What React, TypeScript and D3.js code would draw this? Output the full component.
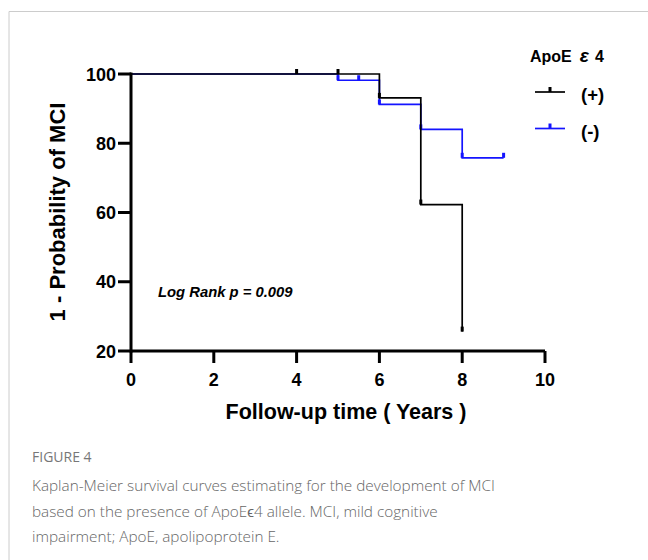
import React from "react";
import * as d3 from "d3";

const xTicks = [0, 2, 4, 6, 8, 10];
const yTicks = [20, 40, 60, 80, 100];

// Step survival curves: [time, survival%]
const posSteps: [number, number][] = [
  [0, 100], [6, 93.1], [7, 62.3], [8, 25.6],
];
const posEnd = 8;
const posCensor: [number, number][] = [
  [4, 100], [5, 100], [6, 93.1], [7, 62.3], [8, 25.6],
];

const negSteps: [number, number][] = [
  [0, 100], [5, 98.2], [6, 91.2], [7, 84.0], [8, 75.8],
];
const negEnd = 9;
const negCensor: [number, number][] = [
  [5, 98.2], [5.5, 98.2], [6, 91.2], [7, 84.0], [8, 75.8], [9, 75.8],
];

const seriesLabels = ["(+)", "(-)"];
const seriesColors = ["#000000", "#1414ff"];

const captionLines = [
  "Kaplan-Meier survival curves estimating for the development of MCI",
  "based on the presence of ApoEϵ4 allele. MCI, mild cognitive",
  "impairment; ApoE, apolipoprotein E.",
];

const W = 648, H = 560;
const x = d3.scaleLinear().domain([0, 10]).range([131, 545]);
const y = d3.scaleLinear().domain([20, 100]).range([351, 74]);

function stepPath(steps: [number, number][], end: number) {
  const pts: [number, number][] = [];
  steps.forEach(([t, s], i) => {
    if (i > 0) pts.push([t, steps[i - 1][1]]);
    pts.push([t, s]);
  });
  pts.push([end, steps[steps.length - 1][1]]);
  return d3.line<[number, number]>().x((d) => x(d[0])).y((d) => y(d[1]))(pts) || "";
}

export default function App() {
  const font = "Liberation Sans, Arial, sans-serif";
  const series = [
    { steps: posSteps, end: posEnd, censor: posCensor },
    { steps: negSteps, end: negEnd, censor: negCensor },
  ];
  const order = [1, 0];
  return (
    <svg width={W} height={H} style={{ position: "absolute", left: 0, top: 0, background: "#fff" }} fontFamily={font}>
      <rect x={0} y={0} width={W} height={H} fill="#fff" />
      {/* card border */}
      <line x1={9} y1={11.5} x2={W} y2={11.5} stroke="#cccccc" strokeWidth={1} />
      <line x1={9} y1={11.5} x2={9} y2={H} stroke="#cccccc" strokeWidth={1} />

      {/* curves */}
      {order.map((i) => {
        const s = series[i];
        return (
          <g key={i}>
            <path d={stepPath(s.steps, s.end)} fill="none" stroke={seriesColors[i]} strokeWidth={1.7} />
            {s.censor.map(([t, v], k) => (
              <rect key={k} x={x(t) - 1.5} y={y(v) - 5} width={3} height={5} fill={seriesColors[i]} />
            ))}
          </g>
        );
      })}

      {/* axes */}
      <line x1={x(0)} y1={y(20)} x2={x(10)} y2={y(20)} stroke="#000" strokeWidth={3} />
      <line x1={x(0)} y1={y(20) + 1.5} x2={x(0)} y2={y(100) - 1.5} stroke="#000" strokeWidth={3} />
      {xTicks.map((t) => (
        <g key={t}>
          <line x1={x(t)} x2={x(t)} y1={y(20)} y2={y(20) + 12} stroke="#000" strokeWidth={3} />
          <text x={x(t)} y={y(20) + 35} textAnchor="middle" fontSize={18} fontWeight="bold">{t}</text>
        </g>
      ))}
      {yTicks.map((t) => (
        <g key={t}>
          <line x1={x(0) - 13} x2={x(0)} y1={y(t)} y2={y(t)} stroke="#000" strokeWidth={3} />
          <text x={x(0) - 15} y={y(t) + 6.5} textAnchor="end" fontSize={18} fontWeight="bold">{t}</text>
        </g>
      ))}

      <text x={346} y={419} textAnchor="middle" fontSize={21.5} fontWeight="bold">Follow-up time ( Years )</text>
      <text transform={`translate(65,212) rotate(-90)`} textAnchor="middle" fontSize={22} fontWeight="bold">1 - Probability of MCI</text>
      <text x={158} y={297} fontSize={14.8} fontWeight="bold" fontStyle="italic">Log Rank p = 0.009</text>

      {/* legend */}
      <text x={530} y={62} fontSize={16} fontWeight="bold">
        ApoE<tspan dx={8} fontStyle="italic" fontSize={19}>ε</tspan><tspan dx={6}>4</tspan>
      </text>
      {seriesLabels.map((lab, i) => {
        const ly = 92 + i * 36.5;
        return (
          <g key={lab}>
            <line x1={535} x2={565} y1={ly} y2={ly} stroke={seriesColors[i]} strokeWidth={1.7} />
            <rect x={548.5} y={ly - 5} width={3} height={5} fill={seriesColors[i]} />
            <text x={581} y={ly + 9} fontSize={18.5} fontWeight="bold">{lab}</text>
          </g>
        );
      })}

      {/* caption */}
      <text x={32} y={462} fontSize={14} fill="#777" fontFamily="Open Sans, sans-serif">FIGURE 4</text>
      {captionLines.map((l, i) => (
        <text key={i} x={32} y={491 + i * 25.5} fontSize={15.3} fill="#666" fontFamily="Open Sans, sans-serif" fontWeight={300}>{l}</text>
      ))}
    </svg>
  );
}
